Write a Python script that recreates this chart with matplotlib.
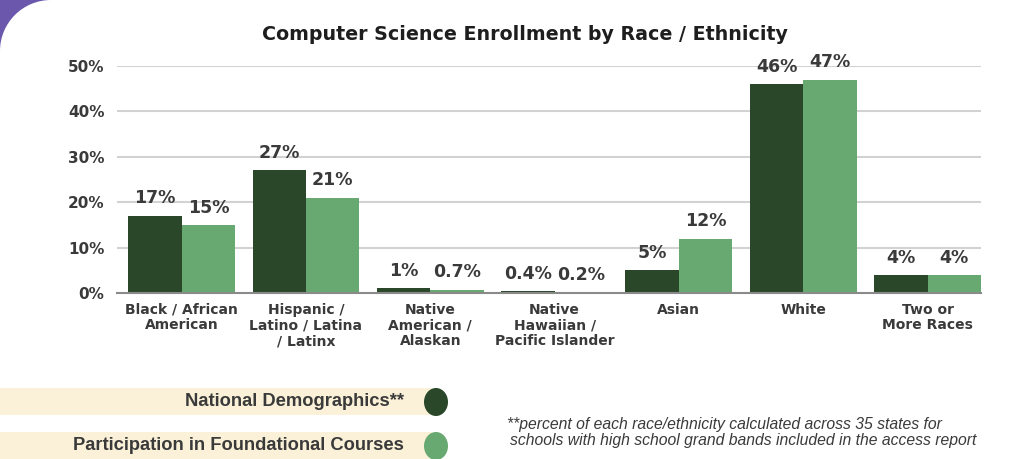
import matplotlib
matplotlib.use("Agg")
import matplotlib.pyplot as plt
import matplotlib.patches as mpatches
import numpy as np

categories = [
    "Black / African\nAmerican",
    "Hispanic /\nLatino / Latina\n/ Latinx",
    "Native\nAmerican /\nAlaskan",
    "Native\nHawaiian /\nPacific Islander",
    "Asian",
    "White",
    "Two or\nMore Races",
]
national = [17, 27, 1, 0.4, 5, 46, 4]
participation = [15, 21, 0.7, 0.2, 12, 47, 4]
national_labels = ["17%", "27%", "1%", "0.4%", "5%", "46%", "4%"]
participation_labels = ["15%", "21%", "0.7%", "0.2%", "12%", "47%", "4%"]
y_ticks = [0, 10, 20, 30, 40, 50]

DARK = "#2a4729"
LIGHT = "#68a972"
TEXT = "#3a3a3a"
FONT = ["DejaVu Sans"]
NARROW = ["Liberation Sans Narrow", "Liberation Sans", "DejaVu Sans"]

plt.rcParams["font.family"] = FONT

W, H = 1024, 459
fig = plt.figure(figsize=(W / 100, H / 100), dpi=100)
fig.patch.set_facecolor("white")

# purple rounded corner in the top left
corner = fig.add_axes([0, 0, 1, 1], zorder=-5)
corner.set_xlim(0, W)
corner.set_ylim(H, 0)
corner.axis("off")
corner.add_patch(mpatches.Rectangle((0, 0), 52, 52, color="#6b58ad", lw=0))
corner.add_patch(mpatches.Circle((51, 51), 51, color="white", lw=0))
corner.add_patch(mpatches.Rectangle((51, 0), 10, 60, color="white", lw=0))
corner.add_patch(mpatches.Rectangle((0, 51), 60, 10, color="white", lw=0))

# legend bands
corner.add_patch(mpatches.Rectangle((0, 388), 432, 27, color="#faf1d8", lw=0))
corner.add_patch(mpatches.Rectangle((0, 432), 432, 27, color="#faf1d8", lw=0))
corner.add_patch(mpatches.Ellipse((436, 402), 24, 28, color=DARK, lw=0))
corner.add_patch(mpatches.Ellipse((436, 446), 24, 28, color=LIGHT, lw=0))
corner.text(404, 402, "National Demographics**", ha="right", va="center",
            fontsize=13.2, fontweight="bold", color=TEXT, family=NARROW)
corner.text(404, 446, "Participation in Foundational Courses", ha="right", va="center",
            fontsize=13.2, fontweight="bold", color=TEXT, family=NARROW)
corner.text(507, 425, "**percent of each race/ethnicity calculated across 35 states for",
            ha="left", va="center", fontsize=11.3, style="italic", color=TEXT, family=NARROW)
corner.text(510, 440, "schools with high school grand bands included in the access report",
            ha="left", va="center", fontsize=11.3, style="italic", color=TEXT, family=NARROW)

ax = fig.add_axes([117 / W, 1 - 293 / H, (981 - 117) / W, (293 - 66) / H])
x = np.arange(len(categories))
width = 0.43
b1 = ax.bar(x - width / 2, national, width, color=DARK, zorder=3)
b2 = ax.bar(x + width / 2, participation, width, color=LIGHT, zorder=3)

for bars, labels in ((b1, national_labels), (b2, participation_labels)):
    for rect, lab in zip(bars, labels):
        ax.annotate(lab, (rect.get_x() + rect.get_width() / 2, rect.get_height()),
                    xytext=(0, 6), textcoords="offset points", ha="center", va="bottom",
                    fontsize=12.5, fontweight="bold", color=TEXT)

ax.set_xlim(-0.52, len(categories) - 1 + width)
ax.set_ylim(0, 50)
ax.set_yticks(y_ticks)
ax.set_yticklabels([f"{t}%" for t in y_ticks])
ax.set_xticks(x)
ax.set_xticklabels(categories, linespacing=1.15)
ax.tick_params(axis="y", length=0, pad=9, labelsize=11, labelcolor=TEXT)
ax.tick_params(axis="x", length=0, pad=7, labelsize=10, labelcolor=TEXT)
for lab in ax.get_xticklabels() + ax.get_yticklabels():
    lab.set_fontweight("bold")
ax.grid(axis="y", color="#d2d2d2", linewidth=1.5, zorder=0)
for side in ("top", "right", "left"):
    ax.spines[side].set_visible(False)
ax.spines["bottom"].set_color("#8a8a8a")
ax.spines["bottom"].set_linewidth(1.5)
ax.spines["bottom"].set_zorder(4)
ax.set_facecolor("none")

fig.text(525 / W, 1 - 35 / H, "Computer Science Enrollment by Race / Ethnicity",
         ha="center", va="center", fontsize=13.7, fontweight="bold", color="#1e1e1e")

fig.savefig("out.png", dpi=100)
